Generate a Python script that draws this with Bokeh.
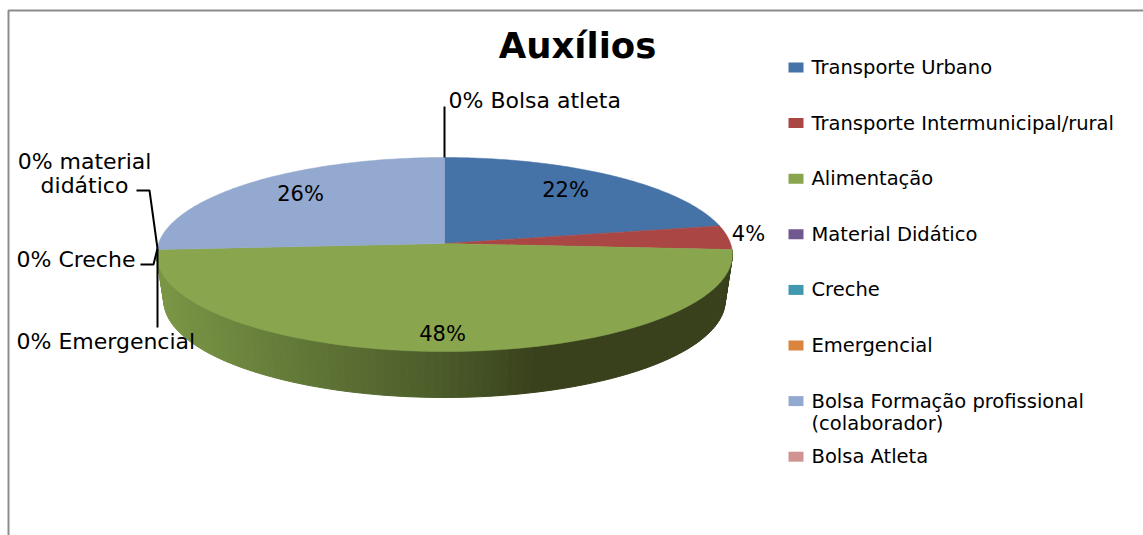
import numpy as np
from bokeh.plotting import figure
from bokeh.models import Range1d
from bokeh.core.properties import value
from bokeh.embed import file_html
from bokeh.resources import INLINE

title = "Auxílios"
categories = ["Transporte Urbano", "Transporte Intermunicipal/rural", "Alimentação",
              "Material Didático", "Creche", "Emergencial",
              "Bolsa Formação profissional\n(colaborador)", "Bolsa Atleta"]
values = [22, 4, 48, 0, 0, 0, 26, 0]
colors = ["#4572A7", "#AA4643", "#89A54E", "#71588F", "#4198AF", "#DB843D", "#93A9CF", "#D19392"]
pct_labels = ["22%", "4%", "48%", "26%"]
pct_x = [565, 748, 442, 300]
pct_y = [189, 233, 333, 193]
FONT = "DejaVu Sans"

W, H = 1143, 535
p = figure(width=W, height=H, x_range=Range1d(0, W), y_range=Range1d(H, 0),
           toolbar_location=None, output_backend="svg", min_border=0,
           outline_line_color=None, background_fill_color="white", border_fill_color="white")
p.axis.visible = False
p.grid.visible = False

# frame
p.line([8, 8, W], [H, 10, 10], line_color="#8c8c8c", line_width=2)

# perspective disc
CX, CY, R, A, K = 444.0, 243.0, 286.0, 95.75, 0.1134
DEPTH, SHRINK = 46.0, 0.975

def project(theta_deg):
    t = np.radians(np.asarray(theta_deg, dtype=float))
    u, v = np.sin(t), -np.cos(t)
    d = 1 - K * v
    return CX + R * u / d, CY + A * v / d

def wall_colour(x):
    stops_x = [150, 300, 440, 540, 740]
    r = np.interp(x, stops_x, [0x7C, 0x62, 0x4C, 0x38, 0x38])
    g = np.interp(x, stops_x, [0x98, 0x78, 0x5C, 0x40, 0x40])
    b = np.interp(x, stops_x, [0x46, 0x38, 0x2A, 0x1C, 0x1C])
    return "#%02x%02x%02x" % (int(r), int(g), int(b))

# side wall of the green slice
cum = np.cumsum([0] + values) * 3.6
start, end = cum[2], cum[3]
steps = np.arange(start, end, 1.5)
xs_w, ys_w, cs_w = [], [], []
for a0 in steps:
    a1 = min(a0 + 1.5, end)
    x0, y0 = project(a0)
    x1, y1 = project(a1)
    bx0, bx1 = CX + (x0 - CX) * SHRINK, CX + (x1 - CX) * SHRINK
    xs_w.append([x0, x1, bx1, bx0])
    ys_w.append([y0, y1, y1 + DEPTH, y0 + DEPTH])
    cs_w.append(wall_colour((x0 + x1) / 2))
p.patches(xs_w, ys_w, fill_color=cs_w, line_color=cs_w, line_width=1)

# top faces
for i, v in enumerate(values):
    if v == 0:
        continue
    th = np.linspace(cum[i], cum[i + 1], 120)
    x, y = project(th)
    p.patch([CX, *x], [CY, *y], fill_color=colors[i], line_color=colors[i], line_width=0.5)

# leader lines
lw = 2
p.line([444, 444], [106, 157], line_color="black", line_width=lw)
p.line([136, 149, 157], [190, 190, 248], line_color="black", line_width=lw)
p.line([140, 153, 157], [264, 264, 248], line_color="black", line_width=lw)
p.line([157, 157], [248, 327], line_color="black", line_width=lw)

def label(x, y, text, size, align="left", style="normal", lh=1.2):
    p.text([x], [y], text=[text], text_font=value(FONT), text_font_size=size,
           text_color="black", text_align=align, text_baseline="middle",
           text_font_style=style, text_line_height=lh)

LABEL = "22px"
label(577, 45, title, "35.5px", "center", "bold")
label(448, 100, "0% Bolsa atleta", LABEL)
label(84, 173, "0% material\ndidático", LABEL, "center", lh=0.95)
label(16, 259, "0% Creche", LABEL)
label(16, 341, "0% Emergencial", LABEL)
for t, x, y in zip(pct_labels, pct_x, pct_y):
    label(x, y, t, "21px", "center")

# legend
LEG = "19.5px"
step = 55.6
for i, (c, col) in enumerate(zip(categories, colors)):
    y = 67 + i * step
    p.rect([795.5], [y], width=15, height=10, fill_color=col, line_color=None)
    if "\n" in c:
        first, second = c.split("\n")
        label(811, y, first, LEG)
        label(811, y + 22, second, LEG)
    else:
        label(811, y, c, LEG)

open("out.html", "w").write(file_html(p, INLINE))
